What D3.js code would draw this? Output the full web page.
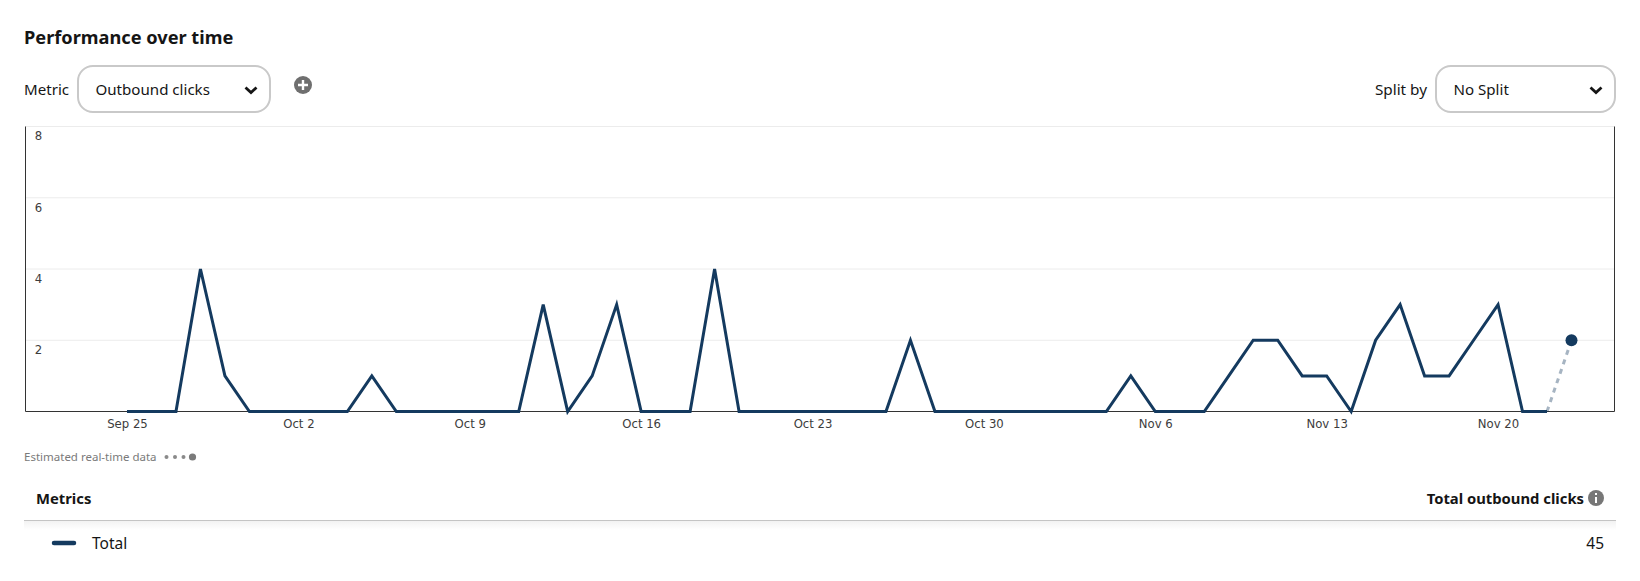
<!DOCTYPE html>
<html lang="en">
<head>
    <meta charset="UTF-8">
    <script src="https://d3js.org/d3.v7.min.js"></script>
    <title>Performance over time</title>
    <style>
        html, body { margin: 0; padding: 0; background: #fff; }
        svg { display: block; }
        .ui { font-family: "Noto Sans", sans-serif; fill: #151515; }
        .axis text { font-family: "DejaVu Sans", sans-serif; font-size: 11.7px; fill: #3c3c3c; }
    </style>
</head>
<body>
    <div id="chart"></div>
    <script>
// Chart data
const startDate = "2023-09-25";
const clicks = [0,0,0,4,1,0,0,0,0,0,1,0,0,0,0,0,0,3,0,1,3,0,0,0,4,0,0,0,0,0,0,0,2,0,0,0,0,0,0,0,0,1,0,0,0,1,2,2,1,1,0,2,3,1,1,2,3,0,0];
const estimatedClicks = [0, 2];
const yTicks = [2, 4, 6, 8];
const xTickLabels = ["Sep 25","Oct 2","Oct 9","Oct 16","Oct 23","Oct 30","Nov 6","Nov 13","Nov 20"];
const totalClicks = "45";

const W = 1640, H = 581;
const plotLeft = 25.5, plotRight = 1614.5, plotTop = 126.5, plotBottom = 411.5;
const navy = "#143a5f";

const svg = d3.select("#chart").append("svg").attr("width", W).attr("height", H);

const day0 = new Date(startDate + "T00:00:00Z");
const dayAt = i => d3.utcDay.offset(day0, i);

// scales
const x = d3.scaleUtc()
    .domain([dayAt(0), dayAt(59)])
    .range([127, 1571.5]);
const y = d3.scaleLinear().domain([0, 8]).range([plotBottom, plotTop]);

// gridlines
svg.append("g").selectAll("line").data(yTicks).enter().append("line")
    .attr("x1", plotLeft).attr("x2", plotRight)
    .attr("y1", d => y(d)).attr("y2", d => y(d))
    .attr("stroke", "#ececec");

// x axis
const xTickDays = xTickLabels.map((d, i) => dayAt(i * 7));
const xAxis = svg.append("g").attr("class", "axis")
    .attr("transform", `translate(0,${plotBottom})`)
    .call(d3.axisBottom(x).tickValues(xTickDays).tickSize(0).tickPadding(8)
        .tickFormat((d, i) => xTickLabels[i]));
xAxis.select(".domain").remove();

// y axis labels sit inside the plot, under their gridline
const yAxis = svg.append("g").attr("class", "axis")
    .attr("transform", `translate(${plotLeft},0)`)
    .call(d3.axisRight(y).tickValues(yTicks).tickSize(0).tickPadding(0));
yAxis.select(".domain").remove();
yAxis.selectAll("text").attr("x", 13).attr("dy", "1.15em").style("text-anchor", "middle");

// frame: left, bottom, right
svg.append("path")
    .attr("d", `M${plotLeft},${plotTop}V${plotBottom}H${plotRight}V${plotTop}`)
    .attr("fill", "none").attr("stroke", "#333").attr("stroke-width", 1);

// lines
const line = d3.line()
    .x(d => x(d[0]))
    .y(d => y(d[1]));

svg.append("path")
    .datum(clicks.map((v, i) => [dayAt(i), v]))
    .attr("d", line)
    .attr("fill", "none").attr("stroke", navy).attr("stroke-width", 3)
    .attr("stroke-linejoin", "miter");

svg.append("path")
    .datum(estimatedClicks.map((v, i) => [dayAt(58 + i), v]))
    .attr("d", line)
    .attr("fill", "none").attr("stroke", navy).attr("stroke-opacity", 0.38)
    .attr("stroke-width", 3).attr("stroke-dasharray", "5 5");

svg.append("circle")
    .attr("cx", x(dayAt(59))).attr("cy", y(2)).attr("r", 6).attr("fill", navy);

// header and controls
function label(tx, ty, str, size, weight, anchor) {
    return svg.append("text").attr("class", "ui")
        .attr("x", tx).attr("y", ty).attr("font-size", size)
        .attr("font-weight", weight || 400)
        .attr("text-anchor", anchor || "start")
        .attr("dominant-baseline", "central")
        .text(str);
}
function selectBox(bx, bw, str, tx) {
    svg.append("rect").attr("x", bx).attr("y", 66).attr("width", bw).attr("height", 46)
        .attr("rx", 15).attr("fill", "#fff").attr("stroke", "#c9c9c9").attr("stroke-width", 2);
    label(tx, 89, str, 15.1);
    const cx = bx + bw - 19;
    svg.append("path").attr("d", `M${cx - 5.5},${87.5}L${cx},${92.5}L${cx + 5.5},${87.5}`)
        .attr("fill", "none").attr("stroke", "#151515").attr("stroke-width", 2.8);
}

label(24, 37, "Performance over time", 18.2, 700);
label(24, 89, "Metric", 15.1);
selectBox(78, 192, "Outbound clicks", 95.5);
label(1427, 89, "Split by", 15.3, 400, "end");
selectBox(1436, 179, "No Split", 1453.5);

// add metric button
svg.append("circle").attr("cx", 303).attr("cy", 85).attr("r", 9).attr("fill", "#6f6f6f");
svg.append("path").attr("d", "M303,80V90M298,85H308").attr("stroke", "#fff").attr("stroke-width", 2.4);

// estimated data note
svg.append("text").attr("x", 24).attr("y", 456.5).attr("dominant-baseline", "central")
    .attr("font-family", "Noto Sans, sans-serif").attr("font-size", 11.5).attr("fill", "#7a7a7a")
    .text("Estimated real-time data");
svg.append("g").selectAll("circle").data([166.5, 175, 183.5]).enter().append("circle")
    .attr("cx", d => d).attr("cy", 457).attr("r", 2).attr("fill", "#8a8a8a");
svg.append("circle").attr("cx", 192.5).attr("cy", 457).attr("r", 3.6).attr("fill", "#7a7a7a");

// metrics table
const shade = svg.append("defs").append("linearGradient")
    .attr("id", "shade").attr("x1", 0).attr("x2", 0).attr("y1", 0).attr("y2", 1);
shade.append("stop").attr("offset", 0).attr("stop-color", "#000").attr("stop-opacity", 0.05);
shade.append("stop").attr("offset", 1).attr("stop-color", "#000").attr("stop-opacity", 0);
svg.append("rect").attr("x", 24).attr("y", 521).attr("width", 1592).attr("height", 9).attr("fill", "url(#shade)");
svg.append("line").attr("x1", 24).attr("x2", 1616).attr("y1", 520.5).attr("y2", 520.5)
    .attr("stroke", "#c4c4c4").attr("stroke-width", 1.2);

label(36, 497.5, "Metrics", 14.8, 700);
label(1584, 497.5, "Total outbound clicks", 14.8, 700, "end");
svg.append("circle").attr("cx", 1596).attr("cy", 498).attr("r", 8).attr("fill", "#777");
svg.append("path").attr("d", "M1596,497V503M1596,493V495").attr("stroke", "#fff").attr("stroke-width", 2);

svg.append("line").attr("x1", 54).attr("x2", 74).attr("y1", 543).attr("y2", 543)
    .attr("stroke", navy).attr("stroke-width", 4.5).attr("stroke-linecap", "round");
label(92, 542.5, "Total", 15.5);
label(1604, 542.5, totalClicks, 15.5, 400, "end");
    </script>
</body>
</html>
